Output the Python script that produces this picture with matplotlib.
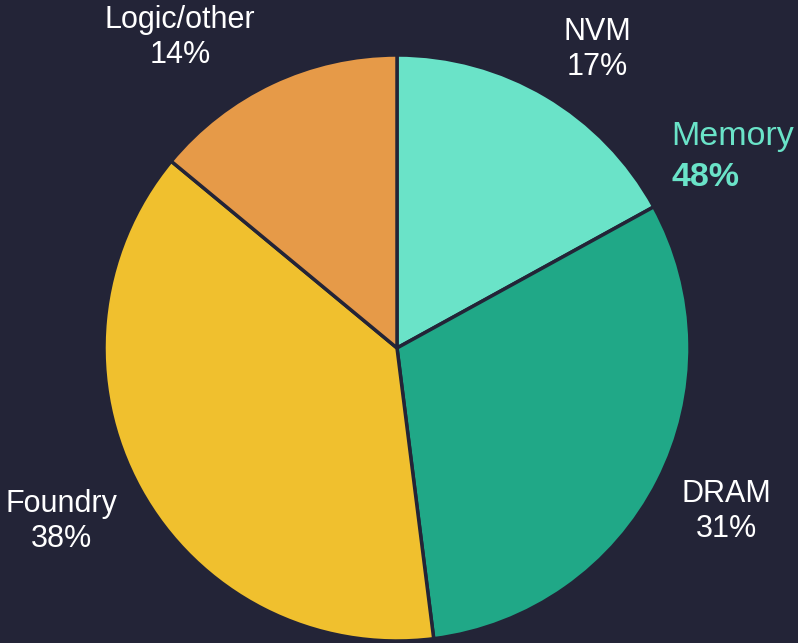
import matplotlib
matplotlib.use("Agg")
import matplotlib.pyplot as plt

plt.rcParams['font.family'] = ['Liberation Sans', 'DejaVu Sans']

labels = ["NVM", "DRAM", "Foundry", "Logic/other"]
shares = [17, 31, 38, 14]
colors = ["#6ae3c8", "#20a887", "#f0c02e", "#e69a48"]
bg = "#232437"

W, H = 798, 643
fig = plt.figure(figsize=(W / 100, H / 100), dpi=100, facecolor=bg)
cx, cy, r = 397, 348, 293
ax = fig.add_axes([(cx - r) / W, (H - cy - r) / H, 2 * r / W, 2 * r / H])
ax.set_facecolor(bg)

ax.pie(shares, colors=colors, startangle=90, counterclock=False,
       wedgeprops=dict(edgecolor=bg, linewidth=2.5))
ax.set_aspect("equal")
ax.set_xlim(-1, 1)
ax.set_ylim(-1, 1)
ax.axis("off")

# label anchor: (center x, baseline of last line) in figure pixels
label_pos = [(597, 75), (726, 537), (61, 547), (180, 63)]
for (lx, ly), name, v in zip(label_pos, labels, shares):
    fig.text(lx / W, 1 - ly / H, f"{name}\n{v}%", ha="center", va="baseline",
             color="white", fontsize=22, linespacing=1.2)

fig.text(671 / W, 1 - 145 / H, "Memory", ha="left", va="baseline",
         color="#6ae3c8", fontsize=24.5)
fig.text(671 / W, 1 - 186 / H, f"{shares[0] + shares[1]}%", ha="left",
         va="baseline", color="#6ae3c8", fontsize=24.5, fontweight="bold")

fig.savefig("out.png", dpi=100, facecolor=bg)
